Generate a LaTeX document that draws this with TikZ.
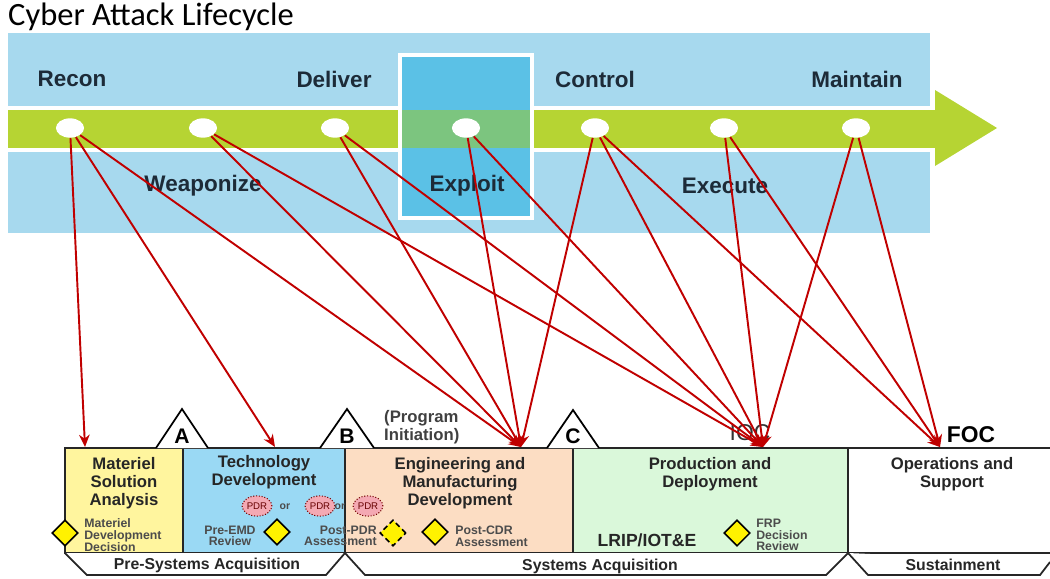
\documentclass[tikz,border=0pt]{standalone}
\usepackage{fontspec}
\setmainfont{Liberation Sans}
\newfontfamily\titlefont{Carlito}
\usetikzlibrary{shapes, arrows.meta, positioning, shapes.geometric}

\definecolor{bandblue}{HTML}{A7D9EE}
\definecolor{bandgreen}{HTML}{B6D433}
\definecolor{exblue}{HTML}{5BC1E6}
\definecolor{exgreen}{HTML}{7CC57F}
\definecolor{stagetext}{HTML}{1D2B38}
\definecolor{arrowred}{HTML}{C00000}
\definecolor{msayellow}{HTML}{FFF59E}
\definecolor{tdblue}{HTML}{9AD9F4}
\definecolor{emdpeach}{HTML}{FCDDC3}
\definecolor{pdgreen}{HTML}{DAF8DA}
\definecolor{pdrpink}{HTML}{F4A9B3}
\definecolor{msyellow}{HTML}{FFF200}

\begin{document}
\begin{tikzpicture}
[x=0.02cm, y=-0.02cm,
StageLabel/.style={font=\fontsize{12.8}{14}\selectfont\bfseries, text=stagetext},
PhaseDot/.style={ellipse, fill=white, minimum width=16pt, minimum height=11pt, inner sep=0pt},
PhaseTitle/.style={font=\fontsize{9.5}{10.2}\selectfont\bfseries, text=black!85, align=center},
SmallNote/.style={font=\fontsize{7}{6.6}\selectfont\bfseries, text=black!70, inner sep=0pt},
Milestone/.style={diamond, fill=msyellow, draw=black, line width=0.9pt, minimum width=15pt,
  minimum height=15pt, inner sep=0pt},
PdrOval/.style={ellipse, fill=pdrpink, draw=red!45!black, densely dotted, line width=0.6pt,
  minimum width=17pt, minimum height=11.5pt, inner sep=0pt,
  font=\fontsize{5.5}{6}\selectfont, text=red!40!black},
MsTriangle/.style={draw=black, fill=white, line width=1pt, line join=miter},
BoxLine/.style={draw=black!85, line width=1.1pt},
Banner/.style={draw=black!85, fill=white, line width=1pt},
BannerText/.style={font=\fontsize{9}{10}\selectfont\bfseries, text=black!85},
Link/.style={draw=arrowred, line width=1.1pt, -{Stealth[length=7pt,width=6pt]}}
]
\useasboundingbox (0,0) rectangle (1050,578);

% cyber attack lifecycle band
\node[anchor=west, font=\titlefont\fontsize{18.5}{20}\selectfont] (title) at (2,17) {Cyber Attack Lifecycle};
\fill[bandblue] (8,33) rectangle (930,106);
\fill[bandblue] (8,152) rectangle (930,233);
\filldraw[fill=exblue, draw=white, line width=2pt] (400,55) rectangle (532,218);
\fill[bandgreen] (8,110) rectangle (935,148);
\fill[bandgreen] (935,90) -- (997,128) -- (935,166) -- cycle;
\fill[exgreen] (400,110) rectangle (532,148);
\draw[white, line width=2pt] (400,110) -- (400,148) (532,110) -- (532,148);

\node[StageLabel] (lRecon) at (72,79) {Recon};
\node[StageLabel] (lDeliver) at (334,79) {Deliver};
\node[StageLabel] (lControl) at (595,79) {Control};
\node[StageLabel] (lMaintain) at (857,79) {Maintain};
\node[StageLabel] (lWeaponize) at (203,186) {Weaponize};
\node[StageLabel] (lExploit) at (467,186) {Exploit};
\node[StageLabel] (lExecute) at (725,186) {Execute};

\node[PhaseDot] (dRecon) at (70,128) {};
\node[PhaseDot] (dWeaponize) at (203,128) {};
\node[PhaseDot] (dDeliver) at (335,128) {};
\node[PhaseDot] (dExploit) at (466,128) {};
\node[PhaseDot] (dControl) at (595,128) {};
\node[PhaseDot] (dExecute) at (724,128) {};
\node[PhaseDot] (dMaintain) at (856,128) {};

% acquisition phases
\fill[msayellow] (65,448) rectangle (183,553);
\fill[tdblue] (183,448) rectangle (345,553);
\fill[emdpeach] (345,448) rectangle (573,553);
\fill[pdgreen] (573,448) rectangle (848,553);
\draw[BoxLine] (1050,448) -- (65,448) -- (65,553) -- (1050,553);
\draw[BoxLine] (183,448) -- (183,553) (345,448) -- (345,553)
  (573,448) -- (573,553) (848,448) -- (848,553);

\draw[MsTriangle] (156,448) -- (182,409) -- (208,448);
\draw[MsTriangle] (320,448) -- (347,409) -- (374,448);
\draw[MsTriangle] (547,448) -- (573,410) -- (599,448);
\node[font=\fontsize{12}{13}\selectfont\bfseries] (msA) at (182,436) {A};
\node[font=\fontsize{12}{13}\selectfont\bfseries] (msB) at (347,436) {B};
\node[font=\fontsize{12}{13}\selectfont\bfseries] (msC) at (573,436) {C};

\node[PhaseTitle, anchor=west, align=left, text=black!75] (progInit) at (378,427) {(Program\\Initiation)};
\node[font=\fontsize{13}{14}\selectfont, text=black!80] (ioc) at (750,433) {IOC};
\node[font=\fontsize{13}{14}\selectfont\bfseries] (foc) at (971,435) {FOC};

\node[PhaseTitle] (msaTitle) at (124,483) {Materiel\\Solution\\Analysis};
\node[PhaseTitle] (tdTitle) at (264,472) {Technology\\Development};
\node[PhaseTitle] (emdTitle) at (460,483) {Engineering and\\Manufacturing\\Development};
\node[PhaseTitle] (pdTitle) at (710,474) {Production and\\Deployment};
\node[PhaseTitle] (osTitle) at (952,474) {Operations and\\Support};

\node[Milestone] (mdd) at (65,533) {};
\node[SmallNote, anchor=west, align=left] (mddText) at (84,535) {Materiel\\Development\\Decision};

\node[PdrOval] (pdrA) at (257,506) {PDR};
\node[SmallNote, font=\fontsize{6}{6}\selectfont\bfseries] (orA) at (285,507) {or};
\node[PdrOval] (pdrB) at (320,506) {PDR};
\node[SmallNote, font=\fontsize{6}{6}\selectfont\bfseries] (orB) at (340,507) {or};
\node[PdrOval] (pdrC) at (368,506) {PDR};

\node[SmallNote, align=center] (preEmd) at (230,536) {Pre-EMD\\Review};
\node[Milestone] (preEmdMs) at (277,532) {};
\node[SmallNote, anchor=east, align=right] (postPdr) at (377,536) {Post-PDR\\Assessment};
\node[Milestone, densely dashed] (postPdrMs) at (393,533) {};
\node[Milestone] (postCdrMs) at (435,532) {};
\node[SmallNote, anchor=west, align=left] (postCdr) at (455,536) {Post-CDR\\Assessment};

\node[font=\fontsize{10}{12}\selectfont\bfseries, text=black!85] (lrip) at (647,540) {LRIP/IOT\&E};
\node[Milestone] (frpMs) at (737,533) {};
\node[SmallNote, anchor=west, align=left] (frp) at (756,535) {FRP\\Decision\\Review};

\draw[Banner] (65,553) -- (87,575) -- (326,575) -- (345,553);
\draw[Banner] (345,553) -- (365,575) -- (826,575) -- (848,553);
\draw[Banner] (848,553) -- (868,575) -- (1040,575) -- (1050,562);
\node[BannerText] (preSys) at (207,565) {Pre-Systems Acquisition};
\node[BannerText] (sysAcq) at (600,566) {Systems Acquisition};
\node[BannerText] (sustain) at (953,565) {Sustainment};

% mapping arrows
\coordinate (tMSA) at (85,447);
\coordinate (tTD) at (275,447);
\coordinate (tEMD) at (521,447);
\coordinate (tIOC) at (763,447);
\coordinate (tFOC) at (940,447);

\draw[Link] (dRecon) -- (tMSA);
\draw[Link] (dRecon) -- (tTD);
\draw[Link] (dRecon) -- (tEMD);
\draw[Link] (dWeaponize) -- (tEMD);
\draw[Link] (dWeaponize) -- (tIOC);
\draw[Link] (dDeliver) -- (tEMD);
\draw[Link] (dDeliver) -- (tIOC);
\draw[Link] (dExploit) -- (tEMD);
\draw[Link] (dExploit) -- (tIOC);
\draw[Link] (dControl) -- (tEMD);
\draw[Link] (dControl) -- (tIOC);
\draw[Link] (dControl) -- (tFOC);
\draw[Link] (dExecute) -- (tIOC);
\draw[Link] (dExecute) -- (tFOC);
\draw[Link] (dMaintain) -- (tIOC);
\draw[Link] (dMaintain) -- (tFOC);
\end{tikzpicture}
\end{document}
